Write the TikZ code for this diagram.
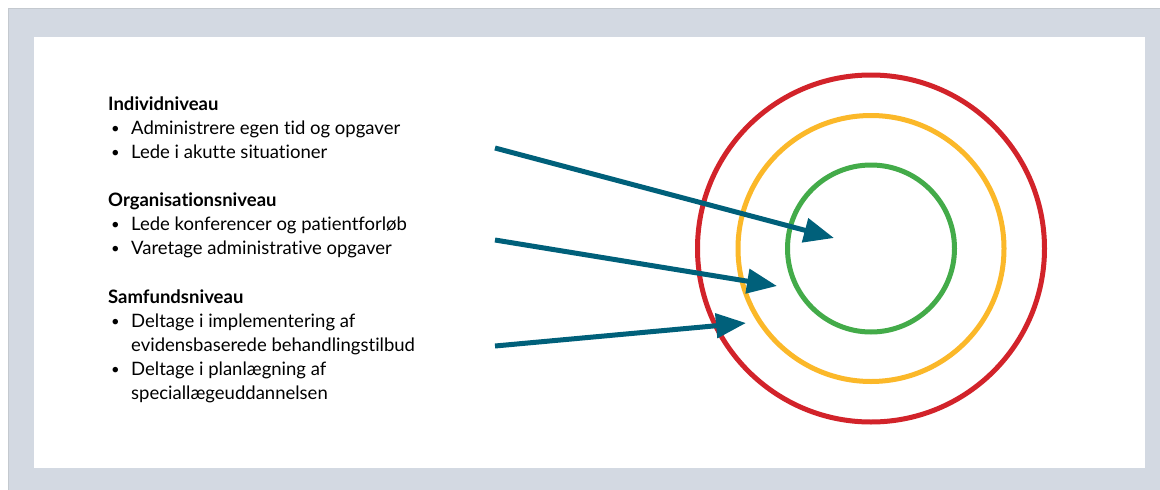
\documentclass[tikz,border=0pt]{standalone}
\usepackage{fontspec}
\setmainfont{Lato}[Ligatures=NoCommon]
\usetikzlibrary{arrows.meta,positioning}

\definecolor{rammegraa}{HTML}{D3D9E2}
\definecolor{kantgraa}{HTML}{C4C9CF}
\definecolor{niveaurod}{HTML}{D2232A}
\definecolor{niveaugul}{HTML}{FBB829}
\definecolor{niveaugron}{HTML}{43AB49}
\definecolor{pilblaa}{HTML}{00607A}

\newcommand{\punkt}{\makebox[23pt][l]{\hspace*{3pt}\raisebox{1pt}{\scalebox{0.8}{\textbullet}}}}
\newcommand{\fortsat}{\hspace*{23pt}}

\begin{document}
\begin{tikzpicture}[x=1pt, y=-1pt]
  \tikzstyle{blok}=[anchor=north west, inner sep=0pt, align=left, font=\fontsize{18.5}{24}\selectfont]
  \tikzstyle{ring}=[line width=5pt]
  \tikzstyle{pil}=[pilblaa, line width=5pt, -{Triangle[length=30pt, width=24pt]}]

  \useasboundingbox (0,0) rectangle (1160,490);
  % ramme og hvid flade
  \fill[rammegraa] (8,8) rectangle (1160,490);
  \draw[kantgraa, line width=1pt] (8,490) -- (8,8) -- (1160,8);
  \fill[white] (34,37) rectangle (1145,468);

  % tekstblokke
  \node[blok] (indiv) at (108,97) {\textbf{Individniveau}\\
    \punkt Administrere egen tid og opgaver\\
    \punkt Lede i akutte situationer};
  \node[blok] (org) at (108,193) {\textbf{Organisationsniveau}\\
    \punkt Lede konferencer og patientforløb\\
    \punkt Varetage administrative opgaver};
  \node[blok] (samf) at (108,290) {\textbf{Samfundsniveau}\\
    \punkt Deltage i implementering af\\
    \fortsat evidensbaserede behandlingstilbud\\
    \punkt Deltage i planlægning af\\
    \fortsat speciallægeuddannelsen};

  % ringe
  \coordinate (centrum) at (871,248.5);
  \draw[ring, niveaurod] (centrum) circle (173.5);
  \draw[ring, niveaugul] (centrum) circle (133);
  \draw[ring, niveaugron] (centrum) circle (83.5);

  % pile
  \coordinate (indivfra) at (495,148);
  \coordinate (indivmaal) at (834,238);
  \coordinate (orgfra) at (495,240);
  \coordinate (orgmaal) at (777,286);
  \coordinate (samffra) at (495,346);
  \coordinate (samfmaal) at (746,323);
  \draw[pil] (indivfra) -- (indivmaal);
  \draw[pil] (orgfra) -- (orgmaal);
  \draw[pil] (samffra) -- (samfmaal);
\end{tikzpicture}
\end{document}
